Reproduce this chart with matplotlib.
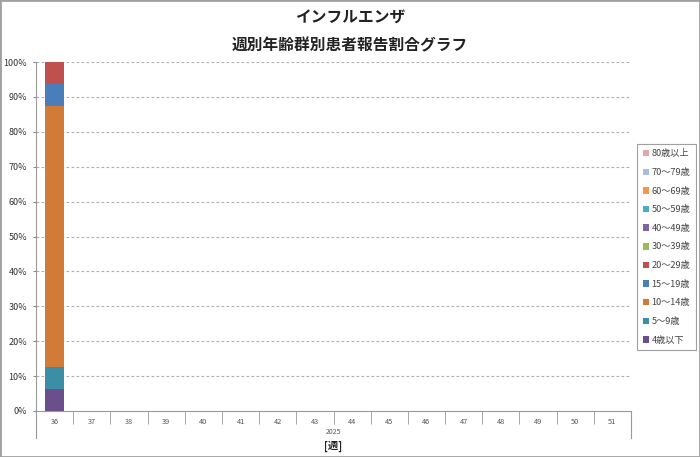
import matplotlib
matplotlib.use("Agg")
import matplotlib.pyplot as plt
from matplotlib.patches import Rectangle

plt.rcParams['font.family'] = ['Noto Sans CJK JP', 'DejaVu Sans']

# --- データ ---
weeks = ["36", "37", "38", "39", "40", "41", "42", "43", "44", "45",
         "46", "47", "48", "49", "50", "51"]
year_label = "2025"
age_groups = ["4歳以下", "5～9歳", "10～14歳", "15～19歳", "20～29歳",
              "30～39歳", "40～49歳", "50～59歳", "60～69歳", "70～79歳", "80歳以上"]
# 各週の割合 (%) 年齢群ごと; 36週のみ報告あり
share_4 = [6.25] + [0] * 15
share_5_9 = [6.25] + [0] * 15
share_10_14 = [75.0] + [0] * 15
share_15_19 = [6.25] + [0] * 15
share_20_29 = [6.25] + [0] * 15
share_30_39 = [0] * 16
share_40_49 = [0] * 16
share_50_59 = [0] * 16
share_60_69 = [0] * 16
share_70_79 = [0] * 16
share_80 = [0] * 16
series = [share_4, share_5_9, share_10_14, share_15_19, share_20_29,
          share_30_39, share_40_49, share_50_59, share_60_69, share_70_79, share_80]
colors = ["#6a4f8c", "#3b8ea5", "#d27b38", "#4a7ebb", "#c0504d",
          "#9bbb59", "#8064a2", "#4bacc6", "#f79646", "#a9bde3", "#e2a6ae"]

fig = plt.figure(figsize=(7, 4.57), dpi=100)
fig.patches.append(Rectangle((0, 0), 1, 1, transform=fig.transFigure,
                             fill=False, edgecolor="#a0a0a0", linewidth=2))

ax = fig.add_axes([36 / 700, 46 / 457, 595 / 700, 349 / 457])

x = [i + 0.5 for i in range(len(weeks))]
bottom = [0] * len(weeks)
handles = []
for vals, col, name in zip(series, colors, age_groups):
    b = ax.bar(x, vals, width=0.52, bottom=bottom, color=col, label=name,
               edgecolor="none", zorder=3)
    handles.append(b)
    bottom = [a + v for a, v in zip(bottom, vals)]

ax.set_xlim(0, len(weeks))
ax.set_ylim(0, 100)
ax.set_yticks(range(0, 101, 10))
ax.set_yticklabels([f"{v}%" for v in range(0, 101, 10)], fontsize=6.5,
                   color="#333333")
ax.tick_params(axis='y', length=2.5, color="#888888", pad=4)

for v in range(10, 101, 10):
    ax.axhline(v, color="#b0b0b0", linestyle=(0, (2.5, 2)), linewidth=0.8, zorder=1)

for s in ["top", "right"]:
    ax.spines[s].set_visible(False)
ax.spines["left"].set_color("#999999")
ax.spines["bottom"].set_color("#999999")

ax.set_xticks(x)
ax.set_xticklabels(weeks, fontsize=5.3, color="#555555")
ax.tick_params(axis='x', which='major', length=0, pad=5)
ax.set_xticks(range(0, len(weeks) + 1), minor=True)
ax.tick_params(axis='x', which='minor', length=9.5, color="#999999")

# 外側の区切り線 (年ラベル用)
ext = 27 / 349
for xx in [0, 1]:
    ax.plot([xx, xx], [0, -ext], transform=ax.transAxes, color="#999999",
            linewidth=0.8, clip_on=False)
ax.text(0.5, -21 / 349, year_label, transform=ax.transAxes, ha="center",
        va="center", fontsize=5, color="#555555")
ax.text(0.5, -35 / 349, "[週]", transform=ax.transAxes, ha="center",
        va="center", fontsize=7.5, fontweight="bold", color="#222222")

fig.text(0.5, 1 - 18 / 457, "インフルエンザ", ha="center", va="center",
         fontsize=11.3, fontweight="bold", color="#222222")
fig.text(0.5, 1 - 45 / 457, "週別年齢群別患者報告割合グラフ", ha="center",
         va="center", fontsize=11.3, fontweight="bold", color="#222222")

leg = fig.legend(handles[::-1], age_groups[::-1], loc="center left",
                 bbox_to_anchor=(637 / 700, 1 - 247 / 457), fontsize=6.6,
                 frameon=True, fancybox=False, edgecolor="#888888",
                 handlelength=0.7, handleheight=0.7, handletextpad=0.3,
                 labelspacing=1.05, borderpad=0.6, borderaxespad=0)
leg.get_frame().set_linewidth(0.8)
for t in leg.get_texts():
    t.set_color("#444444")

fig.savefig("out.png", dpi=100)
